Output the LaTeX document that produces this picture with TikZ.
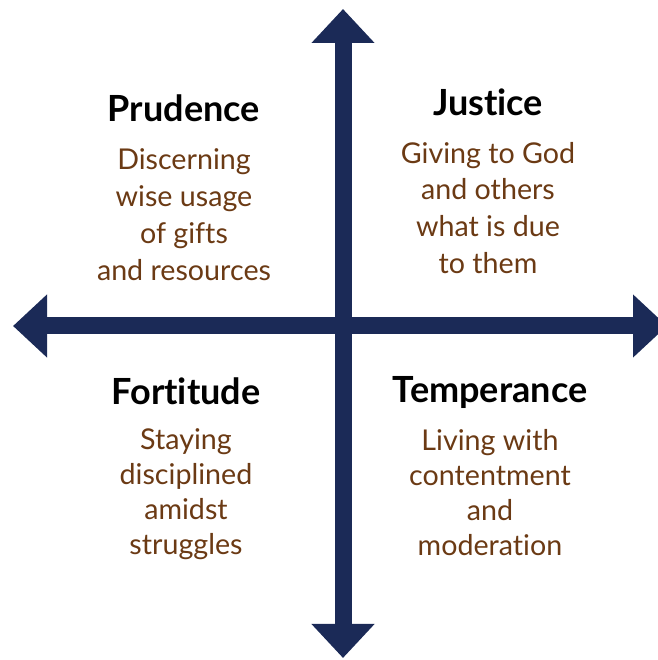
\documentclass[tikz,border=0pt]{standalone}
\usepackage{fontspec}
\setmainfont{Lato}[Ligatures=NoCommon]
\usetikzlibrary{arrows.meta}
\definecolor{navy}{HTML}{1B2A57}
\definecolor{bark}{HTML}{6B3A14}

\begin{document}
\begin{tikzpicture}[virtue/.style={font=\fontsize{20.5}{24}\selectfont\bfseries,text=black},
    meaning/.style={font=\fontsize{16.3}{21}\selectfont,text=bark,align=center},
    tight/.style={font=\fontsize{16.3}{19.9}\selectfont},
    axis/.style={navy,line width=0.34cm,{Triangle[width=1.22cm,length=0.68cm]}-{Triangle[width=1.22cm,length=0.68cm]}}]
              \useasboundingbox (0,0) rectangle (13.14,13.2);
              \coordinate (top) at (6.86,13.02);
              \coordinate (bottom) at (6.86,0.04);
              \coordinate (left) at (0.26,6.68);
              \coordinate (right) at (13.34,6.68);
              \draw[axis] (bottom) -- (top);
              \draw[axis] (left) -- (right);

              \node[virtue] (prudence) at (3.68,11.04) {Prudence};
              \node[virtue] (justice) at (9.76,11.16) {Justice};
              \node[virtue] (fortitude) at (3.72,5.38) {Fortitude};
              \node[virtue] (temperance) at (9.80,5.36) {Temperance};

              \node[meaning] (prudtext) at (3.68,8.9) {Discerning\\wise usage\\of gifts\\and resources};
              \node[meaning] (justtext) at (9.76,9.04) {Giving to God\\and others\\what is due\\to them};
              \node[meaning,tight] (forttext) at (3.72,3.31) {Staying\\disciplined\\amidst\\struggles};
              \node[meaning,tight] (temptext) at (9.80,3.35) {Living with\\contentment\\and\\moderation};
            \end{tikzpicture}
\end{document}
